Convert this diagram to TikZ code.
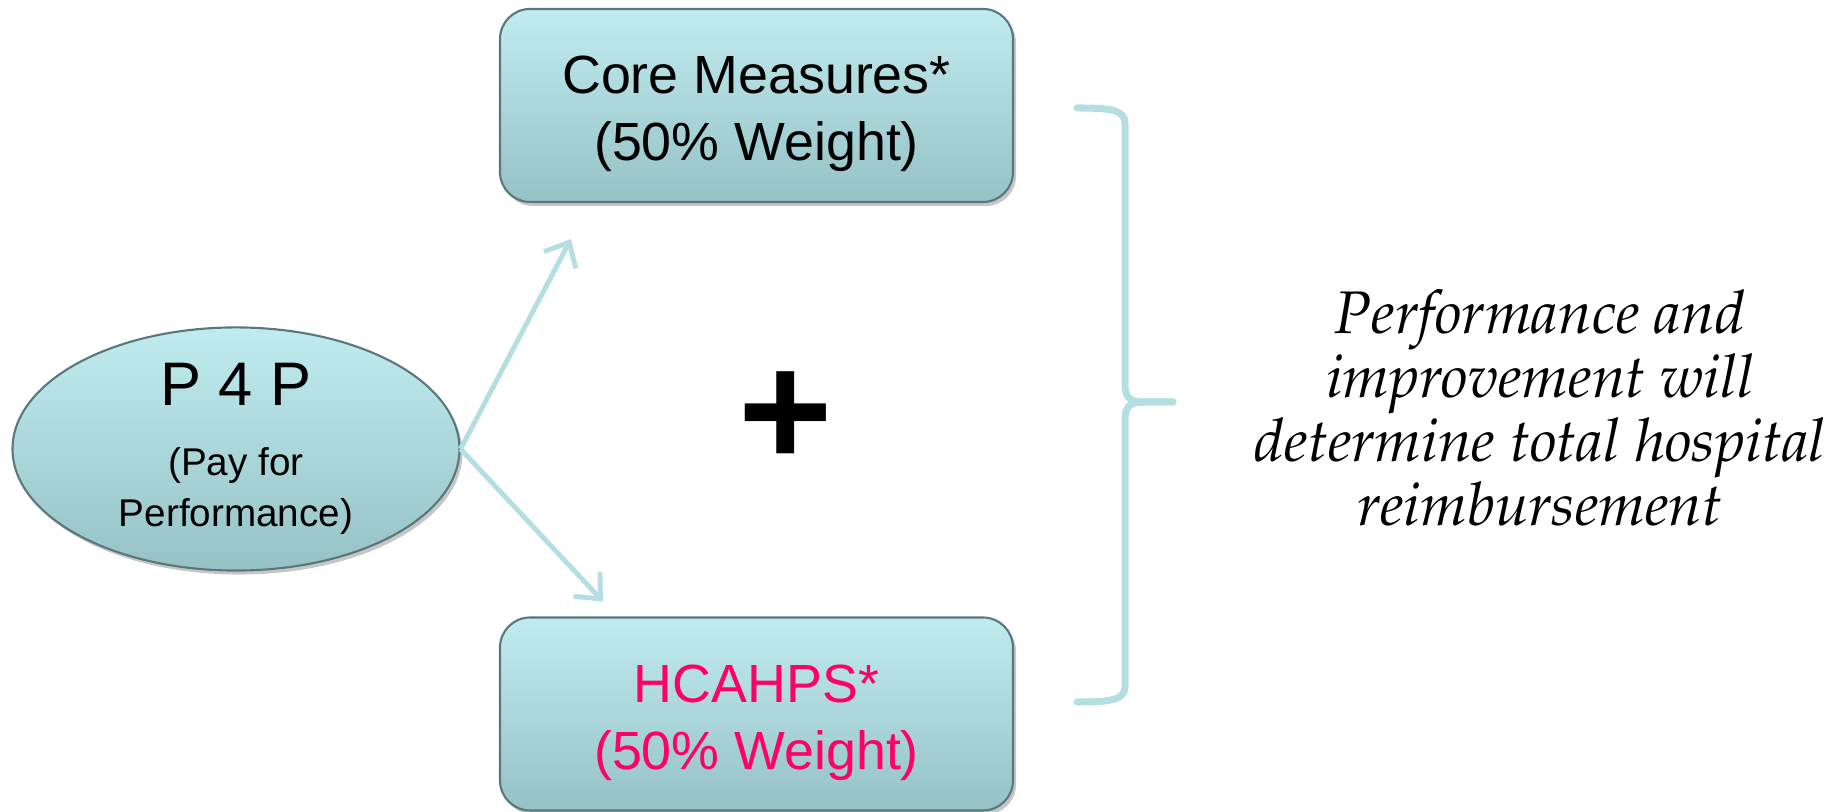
\documentclass[tikz,border=0pt]{standalone}
\usepackage[T1]{fontenc}
\usepackage{fontspec}
\setsansfont{Liberation Sans}
\usetikzlibrary{positioning,shapes.geometric,shadows,arrows.meta}

\definecolor{boxtop}{RGB}{192,236,240}
\definecolor{boxbot}{RGB}{150,194,198}
\definecolor{boxrim}{RGB}{90,120,124}
\definecolor{linkcol}{RGB}{180,222,226}
\definecolor{hotpink}{RGB}{255,0,102}

\newcommand{\palit}{\fontencoding{T1}\fontfamily{ppl}\fontseries{m}\fontshape{it}\selectfont}
\newcommand{\topgap}{\rule{0pt}{15.5pt}}

\tikzstyle{measure} = [rectangle, rounded corners=0.3cm, minimum width=5.13cm, minimum height=1.93cm, align=center, top color=boxtop, bottom color=boxbot, draw=boxrim, line width=0.6pt, drop shadow={opacity=0.45, shadow xshift=0.03cm, shadow yshift=-0.04cm}, font=\sffamily\fontsize{15.3}{19.1}\selectfont]
\tikzstyle{program} = [ellipse, minimum width=4.47cm, minimum height=2.39cm, inner sep=0pt, align=center, top color=boxtop, bottom color=boxbot, draw=boxrim, line width=0.6pt, drop shadow={opacity=0.45, shadow xshift=0.03cm, shadow yshift=-0.04cm}, font=\sffamily\fontsize{11}{14.5}\selectfont]
\tikzstyle{note} = [rectangle, align=center, font=\palit\fontsize{17.1}{18.2}\selectfont]
\tikzstyle{arrow} = [line width=1.4pt, draw=linkcol, -{Straight Barb[length=0.2cm, width=0.36cm]}]
\tikzstyle{bracket} = [line width=2pt, draw=linkcol, line cap=round]

\begin{document}
\begin{tikzpicture}
  \useasboundingbox (0,0) rectangle (18.45,8.12);

  \node (p4p) [program] at (2.36,3.63) {{\fontsize{17.5}{21}\selectfont P 4 P}\\[5.6pt] (Pay for\\ Performance)};
  \node (core) [measure] at (7.565,7.065) {\topgap Core Measures*\\ (50\% Weight)};
  \node (hcahps) [measure, text=hotpink] at (7.565,0.98) {\topgap HCAHPS*\\ (50\% Weight)};
  \node (plus) [font=\sffamily\bfseries\fontsize{46}{46}\selectfont] at (7.86,3.93) {+};
  \node (result) [note] at (15.40,4.04) {Performance and\\ improvement will\\ determine total hospital\\ reimbursement};

  \coordinate (coretip) at ([xshift=0.72cm, yshift=-0.36cm]core.south west);
  \coordinate (hcahpstip) at ([xshift=1.04cm, yshift=0.15cm]hcahps.north west);
  \coordinate (brtop) at (10.77,7.04);
  \coordinate (brtip) at (11.73,4.10);
  \coordinate (brbot) at (10.77,1.10);

  \draw [arrow] (p4p.east) -- (coretip);
  \draw [arrow] (p4p.east) -- (hcahpstip);

  \draw [bracket] (brtop) .. controls (11.12,7.04) and (11.25,7.02) .. (11.25,6.88) -- (11.25,4.28) .. controls (11.25,4.14) and (11.30,4.10) .. (11.45,4.10) -- (brtip);
  \draw [bracket] (brbot) .. controls (11.12,1.10) and (11.25,1.12) .. (11.25,1.26) -- (11.25,3.92) .. controls (11.25,4.06) and (11.30,4.10) .. (11.45,4.10) -- (brtip);
\end{tikzpicture}
\end{document}
